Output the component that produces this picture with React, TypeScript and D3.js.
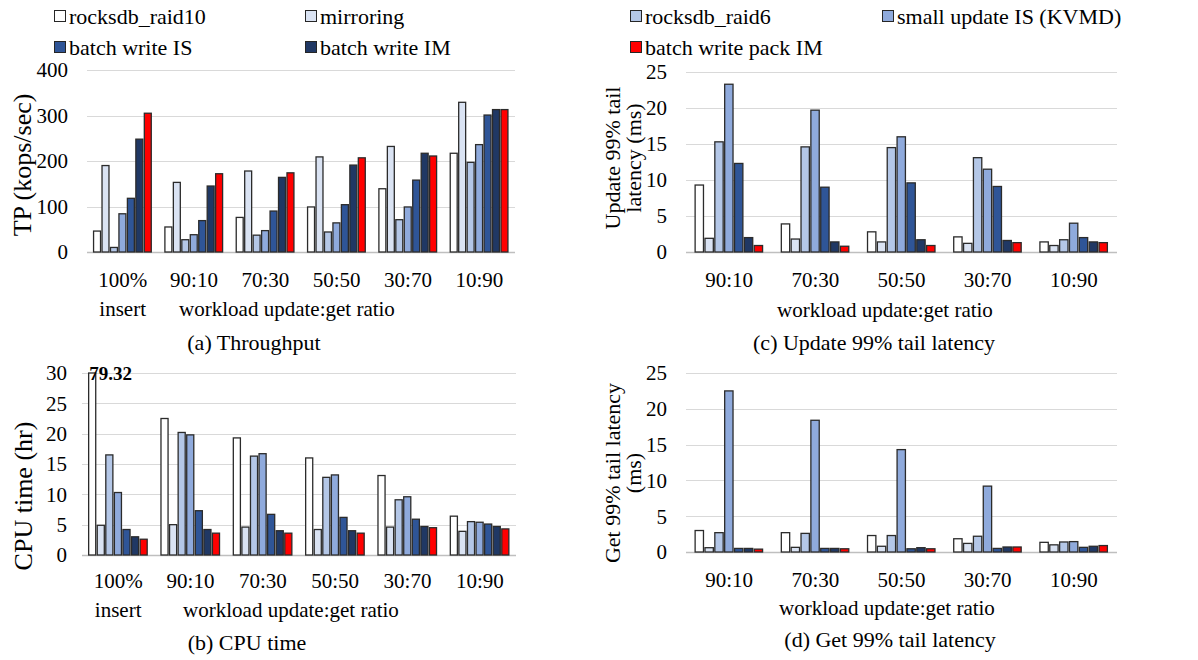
import React, { useEffect, useRef } from "react";
import * as d3 from "d3";

const seriesNames = [
  "rocksdb_raid10",
  "mirroring",
  "rocksdb_raid6",
  "small update IS (KVMD)",
  "batch write IS",
  "batch write IM",
  "batch write pack IM",
];
const seriesColors = ["#ffffff", "#dae3f3", "#b4c7e7", "#8faadc", "#2f5597", "#203864", "#ff0000"];

const catsSix = ["100%|insert", "90:10", "70:30", "50:50", "30:70", "10:90"];
const catsFive = ["90:10", "70:30", "50:50", "30:70", "10:90"];

// rows follow seriesNames, columns follow the categories
const throughput = [
  [46, 55, 76, 99, 139, 217],
  [190, 153, 178, 209, 232, 329],
  [10, 27, 37, 44, 71, 197],
  [84, 38, 47, 64, 99, 236],
  [118, 69, 90, 104, 158, 301],
  [248, 145, 164, 191, 217, 313],
  [305, 172, 174, 207, 211, 313],
];

const cpuTime = [
  [79.32, 22.5, 19.3, 16.0, 13.1, 6.4],
  [4.9, 5.0, 4.6, 4.2, 4.6, 3.9],
  [16.5, 20.2, 16.3, 12.8, 9.1, 5.5],
  [10.3, 19.8, 16.7, 13.2, 9.6, 5.4],
  [4.2, 7.3, 6.7, 6.2, 5.9, 5.1],
  [3.0, 4.2, 4.0, 4.0, 4.7, 4.7],
  [2.6, 3.6, 3.6, 3.6, 4.5, 4.3],
];

const updateTail = [
  [9.3, 3.9, 2.8, 2.1, 1.4],
  [1.9, 1.8, 1.4, 1.2, 0.9],
  [15.3, 14.6, 14.5, 13.1, 1.7],
  [23.3, 19.7, 16.0, 11.5, 4.0],
  [12.3, 9.0, 9.6, 9.1, 2.0],
  [2.0, 1.4, 1.7, 1.6, 1.4],
  [0.9, 0.8, 0.9, 1.3, 1.3],
];

const getTail = [
  [3.0, 2.7, 2.3, 1.85, 1.35],
  [0.6, 0.65, 0.8, 1.2, 1.0],
  [2.7, 2.6, 2.3, 2.2, 1.4],
  [22.5, 18.4, 14.3, 9.2, 1.45],
  [0.5, 0.5, 0.45, 0.5, 0.65],
  [0.5, 0.5, 0.6, 0.7, 0.8],
  [0.4, 0.45, 0.45, 0.7, 0.9],
];

const FONT = "'Liberation Serif', 'Times New Roman', serif";

const panels = [
  {
    cats: catsSix, values: throughput, yMax: 400, step: 100,
    x0: 87, x1: 515, yTop: 70, yBot: 252, tickX: 68,
    ylabel: ["TP (kops/sec)"], ylabelX: 22, ylabelY: 165, ylabelSize: 26,
    catY: 287, titleX: 287, titleY: 316, caption: "(a) Throughput", capX: 254, capY: 350,
    pad: 0.17,
  },
  {
    cats: catsSix, values: cpuTime, yMax: 30, step: 5,
    x0: 82, x1: 516, yTop: 373, yBot: 555, tickX: 67,
    ylabel: ["CPU time (hr)"], ylabelX: 23, ylabelY: 496, ylabelSize: 26,
    catY: 588, titleX: 291, titleY: 617, caption: "(b) CPU time", capX: 247, capY: 650,
    pad: 0.17,
  },
  {
    cats: catsFive, values: updateTail, yMax: 25, step: 5,
    x0: 686, x1: 1117, yTop: 72, yBot: 252, tickX: 667,
    ylabel: ["Update 99% tail", "latency (ms)"], ylabelX: 612, ylabelY: 158, ylabelSize: 22,
    catY: 287, titleX: 885, titleY: 317, caption: "(c) Update 99% tail latency", capX: 874, capY: 350,
    pad: 0.2,
  },
  {
    cats: catsFive, values: getTail, yMax: 25, step: 5,
    x0: 686, x1: 1117, yTop: 373, yBot: 552, tickX: 667,
    ylabel: ["Get 99% tail latency", "(ms)"], ylabelX: 612, ylabelY: 473, ylabelSize: 22,
    catY: 587, titleX: 887, titleY: 615, caption: "(d) Get 99% tail latency", capX: 890, capY: 647,
    pad: 0.2,
  },
];

const legendCols = [54, 305, 630, 882];
const legendRows = [17, 48];
const legendOrder = [
  [0, 0, 0], [1, 1, 0], [2, 2, 0], [3, 3, 0],
  [4, 0, 1], [5, 1, 1], [6, 2, 1],
];

function App() {
  const ref = useRef<SVGSVGElement>(null);

  useEffect(() => {
    const svg = d3.select(ref.current);
    svg.selectAll("*").remove();

    // legend
    const leg = svg.append("g");
    legendOrder.forEach(([s, c, r]) => {
      const g = leg.append("g").attr("transform", `translate(${legendCols[c]},${legendRows[r]})`);
      g.append("rect").attr("x", 0.5).attr("y", -6.5).attr("width", 11).attr("height", 11)
        .attr("fill", seriesColors[s]).attr("stroke", "#262626").attr("stroke-width", 1);
      g.append("text").attr("x", 15).attr("y", 0).attr("dy", "0.32em")
        .style("font-family", FONT).style("font-size", "22px").text(seriesNames[s]);
    });

    panels.forEach((p) => {
      const g = svg.append("g");
      const x = d3.scaleBand<number>().domain(d3.range(p.cats.length)).range([p.x0, p.x1]).paddingInner(p.pad).paddingOuter(p.pad / 2);
      const xs = d3.scaleBand<number>().domain(d3.range(seriesNames.length)).range([0, x.bandwidth()]);
      const y = d3.scaleLinear().domain([0, p.yMax]).range([p.yBot, p.yTop]);
      const ticks = d3.range(0, p.yMax + p.step / 2, p.step);

      // gridlines
      g.selectAll(".grid").data(ticks).enter().append("line")
        .attr("x1", p.x0).attr("x2", p.x1)
        .attr("y1", (d) => Math.round(y(d)) + 0.5).attr("y2", (d) => Math.round(y(d)) + 0.5)
        .attr("stroke", (d) => (d === 0 ? "#bfbfbf" : "#d9d9d9")).attr("stroke-width", (d) => (d === 0 ? 1.5 : 1));

      // tick labels
      g.selectAll(".tick").data(ticks).enter().append("text")
        .attr("x", p.tickX).attr("y", (d) => y(d)).attr("dy", "0.35em")
        .attr("text-anchor", "end").style("font-family", FONT).style("font-size", "21px")
        .text((d) => d);

      // bars
      p.values.forEach((row, s) => {
        g.selectAll(`.bar${s}`).data(row).enter().append("rect")
          .attr("x", (d, i) => (x(i) as number) + (xs(s) as number) + 0.5)
          .attr("width", xs.bandwidth() - 1.5)
          .attr("y", (d) => y(Math.min(d, p.yMax)))
          .attr("height", (d) => p.yBot - y(Math.min(d, p.yMax)))
          .attr("fill", seriesColors[s])
          .attr("stroke", "#2b2b2b").attr("stroke-width", 1.3);
        row.forEach((d, i) => {
          if (d > p.yMax) {
            g.append("text")
              .attr("x", (x(i) as number) + (xs(s) as number) + 1)
              .attr("y", p.yTop).attr("dy", "0.35em")
              .style("font-family", FONT).style("font-size", "19px").style("font-weight", "bold")
              .text(d.toFixed(2));
          }
        });
      });

      // category labels
      p.cats.forEach((c, i) => {
        const parts = c.split("|");
        const cx = (x(i) as number) + x.bandwidth() / 2;
        parts.forEach((t, k) => {
          g.append("text").attr("x", cx).attr("y", p.catY + k * 29)
            .attr("text-anchor", "middle").style("font-family", FONT).style("font-size", "21px").text(t);
        });
      });

      // axis title and caption
      g.append("text").attr("x", p.titleX).attr("y", p.titleY).attr("text-anchor", "middle")
        .style("font-family", FONT).style("font-size", "21px").text("workload update:get ratio");
      g.append("text").attr("x", p.capX).attr("y", p.capY).attr("text-anchor", "middle")
        .style("font-family", FONT).style("font-size", "22px").text(p.caption);

      // y label
      p.ylabel.forEach((t, k) => {
        g.append("text")
          .attr("transform", `translate(${p.ylabelX + k * 21},${p.ylabelY}) rotate(-90)`)
          .attr("text-anchor", "middle").attr("dy", "0.35em")
          .style("font-family", FONT).style("font-size", `${p.ylabelSize}px`).text(t);
      });
    });
  }, []);

  return (
    <div style={{ position: "absolute", left: 0, top: 0 }}>
      <svg ref={ref} width={1198} height={660} style={{ display: "block", background: "#fff" }} />
    </div>
  );
}

export default App;
